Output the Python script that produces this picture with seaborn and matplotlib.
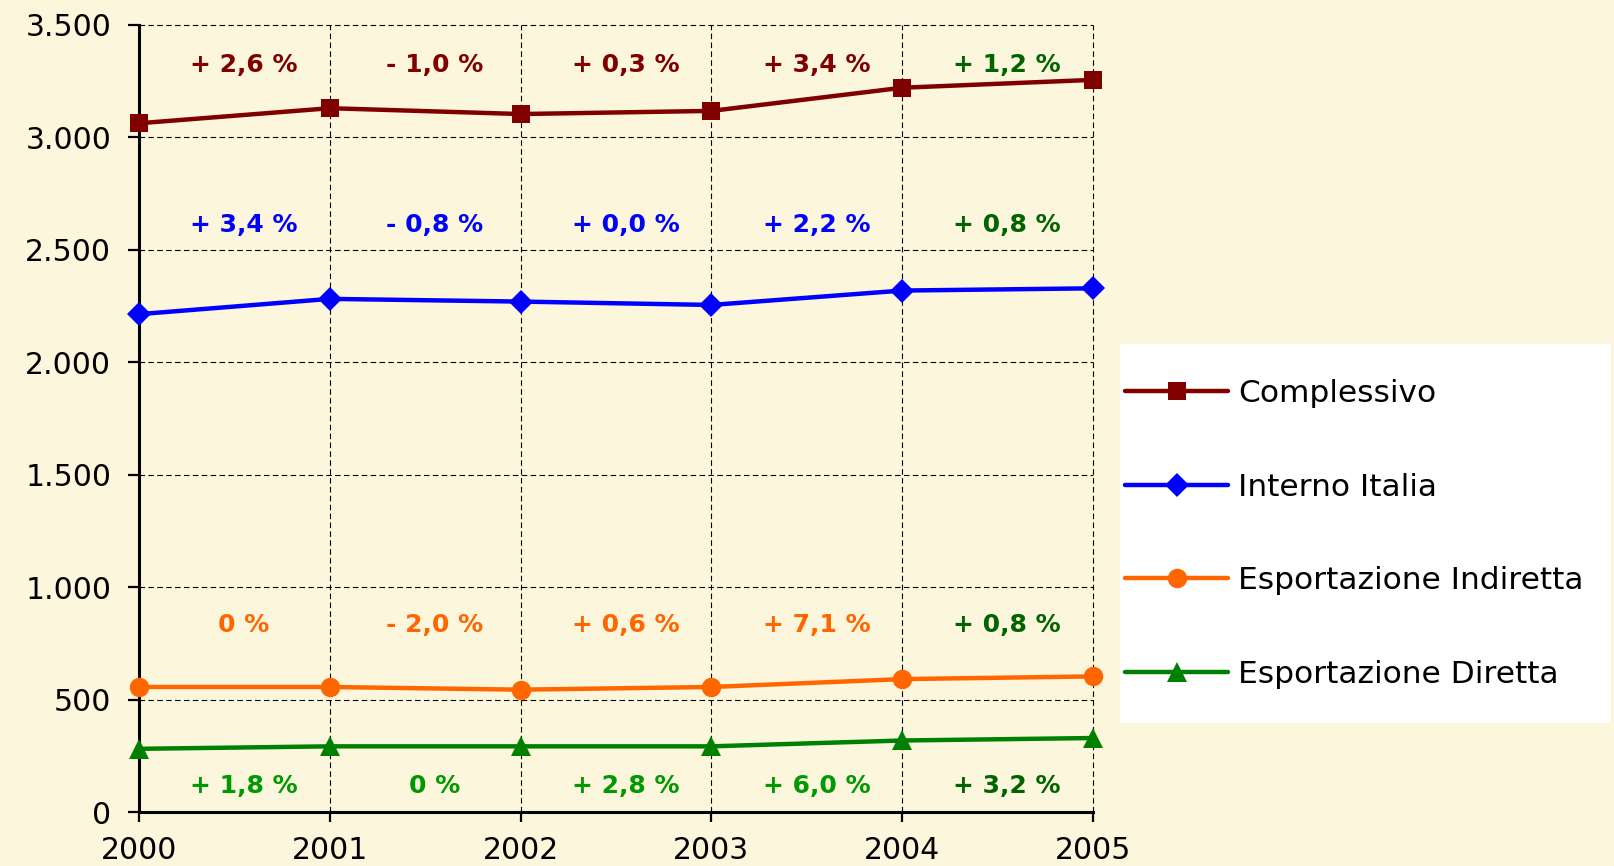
import matplotlib
matplotlib.use("Agg")
import matplotlib.pyplot as plt
from matplotlib.lines import Line2D
from matplotlib.patches import Rectangle
import seaborn as sns
import pandas as pd

anni = [2000, 2001, 2002, 2003, 2004, 2005]
complessivo = [3063, 3130, 3104, 3118, 3221, 3256]
interno_italia = [2214, 2282, 2270, 2255, 2319, 2329]
esp_indiretta = [556, 556, 544, 556, 591, 603]
esp_diretta = [281, 292, 292, 292, 318, 329]

serie = ["Complessivo", "Interno Italia", "Esportazione Indiretta", "Esportazione Diretta"]
colori = {"Complessivo": "#800000", "Interno Italia": "#0000FF",
          "Esportazione Indiretta": "#FF6600", "Esportazione Diretta": "#008000"}
marker = {"Complessivo": "s", "Interno Italia": "D",
          "Esportazione Indiretta": "o", "Esportazione Diretta": "^"}
msize = {"Complessivo": 13, "Interno Italia": 12,
         "Esportazione Indiretta": 14, "Esportazione Diretta": 15}

# variazioni percentuali scritte sopra/sotto le linee
var_compl = ["+ 2,6 %", "- 1,0 %", "+ 0,3 %", "+ 3,4 %", "+ 1,2 %"]
var_interno = ["+ 3,4 %", "- 0,8 %", "+ 0,0 %", "+ 2,2 %", "+ 0,8 %"]
var_indiretta = ["0 %", "- 2,0 %", "+ 0,6 %", "+ 7,1 %", "+ 0,8 %"]
var_diretta = ["+ 1,8 %", "0 %", "+ 2,8 %", "+ 6,0 %", "+ 3,2 %"]

df = pd.DataFrame({
    "anno": anni * 4,
    "valore": complessivo + interno_italia + esp_indiretta + esp_diretta,
    "serie": [s for s in serie for _ in anni],
})

sns.set_style("ticks")
plt.rcParams["font.family"] = ["DejaVu Sans"]
plt.rcParams["text.color"] = "black"
plt.rcParams["xtick.color"] = "black"
plt.rcParams["ytick.color"] = "black"
plt.rcParams["axes.edgecolor"] = "black"
bg = "#FBF6DC"

fig = plt.figure(figsize=(16.15, 8.66), dpi=100, facecolor=bg)
ax = fig.add_axes([139 / 1615, 1 - 812 / 866, (1093 - 139) / 1615, (812 - 25) / 866])
ax.set_facecolor(bg)

for s in serie:
    sub = df[df["serie"] == s]
    sns.lineplot(data=sub, x="anno", y="valore", ax=ax, color=colori[s],
                 marker=marker[s], markersize=msize[s], markeredgewidth=0,
                 linewidth=3.2, legend=False, zorder=3, clip_on=False)

ax.set_xlim(2000, 2005)
ax.set_ylim(0, 3500)
ax.set_xticks(anni)
ax.set_yticks(range(0, 3501, 500))
ax.set_yticklabels([f"{v:,}".replace(",", ".") for v in range(0, 3501, 500)])
ax.set_xlabel("")
ax.set_ylabel("")
ax.grid(True, color="black", linestyle=(0, (5, 3)), linewidth=0.8)
for gl in ax.get_xgridlines() + ax.get_ygridlines():
    gl.set_clip_on(False)
for sp in ["top", "right"]:
    ax.spines[sp].set_visible(False)
for sp in ["left", "bottom"]:
    ax.spines[sp].set_linewidth(2.2)
ax.tick_params(axis="y", length=8, width=1.6, pad=12, labelsize=21.5, labelcolor="black")
ax.tick_params(axis="x", length=7, width=1.6, pad=10, labelsize=21.5, labelcolor="black")

righe = [(var_compl, 3322, "#800000"), (var_interno, 2612, "#0000FF"),
         (var_indiretta, 833, "#FF6600"), (var_diretta, 114, "#009900")]
for testi, yv, col in righe:
    for i, t in enumerate(testi):
        c = "#006400" if i == 4 else col
        ax.text(anni[i] + 0.55, yv, t, ha="center", va="center", color=c,
                fontsize=18, fontweight="bold")

# legenda su riquadro bianco
fig.patches.append(Rectangle((1120 / 1615, 1 - 723 / 866), 491 / 1615, 379 / 866,
                             transform=fig.transFigure, facecolor="white",
                             edgecolor="none", zorder=1))
handles = [Line2D([], [], color=colori[s], marker=marker[s], markersize=msize[s],
                  markeredgewidth=0, linewidth=3.2) for s in serie]
leg = fig.legend(handles, serie, loc="upper left",
                 bbox_to_anchor=(1125 / 1615, 1 - 379 / 866), frameon=False,
                 fontsize=22.5, handlelength=3.3, handletextpad=0.33,
                 labelspacing=2.07, borderpad=0, borderaxespad=0)
for t in leg.get_texts():
    t.set_color("black")
leg.set_zorder(5)

fig.savefig("out.png", dpi=100, facecolor=bg)
